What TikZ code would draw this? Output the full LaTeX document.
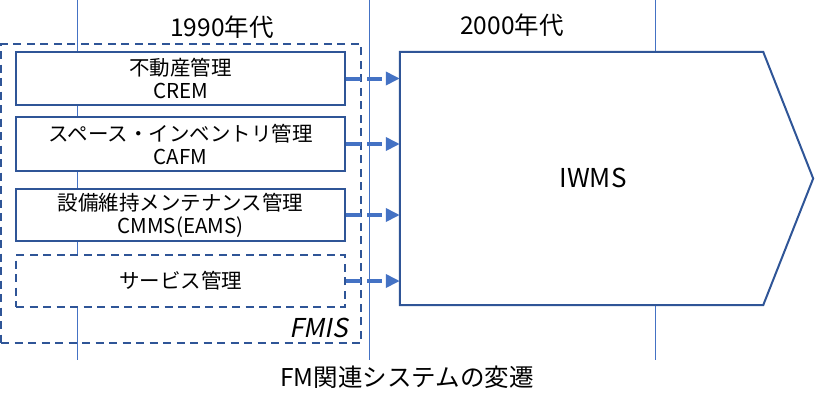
\documentclass[tikz,border=0pt]{standalone}
\usepackage{fontspec}
\setmainfont{Noto Sans CJK JP}
\newfontfamily\slfont{Noto Sans CJK JP}[FakeSlant=0.2]
\usetikzlibrary{arrows.meta,calc}
\definecolor{dkblue}{HTML}{2F5597}
\definecolor{ltblue}{HTML}{4472C4}
\begin{document}
\begin{tikzpicture}[x=1pt,y=-1pt,
  guide/.style={draw=ltblue,line width=1pt},
  sysbox/.style={draw=dkblue,line width=2pt,fill=white,minimum width=329pt,align=center,inner sep=0pt,font=\fontsize{20.5}{23}\selectfont},
  dashbox/.style={sysbox,dash pattern=on 8pt off 5.5pt},
  flow/.style={draw=ltblue,line width=4pt,dash pattern=on 15pt off 6pt,-{Triangle[length=14pt,width=13pt]}},
  lbl/.style={inner sep=0pt,font=\fontsize{24.5}{28}\selectfont}
]
\useasboundingbox (0,0) rectangle (815,408);
% guide lines
\coordinate (g1t) at (77,0);   \coordinate (g1b) at (77,360);
\coordinate (g2t) at (369,0);  \coordinate (g2b) at (369,360);
\coordinate (g3t) at (655,0);  \coordinate (g3b) at (655,360);
\draw[guide] (g1t) -- (g1b);
\draw[guide] (g3t) -- (g3b);
% FMIS frame
\node[draw=dkblue,line width=2pt,dash pattern=on 8pt off 5.5pt,minimum width=360pt,minimum height=299pt,inner sep=0pt] (fmis) at (181,193.5) {};
\node[lbl,anchor=south east,font=\fontsize{26}{28}\slfont] (fmislbl) at (348,338) {FMIS};
% boxes
\node[sysbox,minimum height=52.5pt] (b1) at (180.5,78.5) {不動産管理\\CREM};
\node[sysbox,minimum height=54pt] (b2) at (180.5,144) {スペース・インベントリ管理\\CAFM};
\node[sysbox,minimum height=52pt] (b3) at (180.5,215) {設備維持メンテナンス管理\\CMMS(EAMS)};
\node[dashbox,minimum height=52pt] (b4) at (180.5,281) {サービス管理};
% IWMS
\node[minimum width=363pt,minimum height=253pt,inner sep=0pt] (iwms) at (581.5,178.5) {};
\draw[dkblue,line width=2pt,fill=white,line join=miter] (iwms.north west) -- (iwms.north east) -- ($(iwms.east)+(50,0)$) -- (iwms.south east) -- (iwms.south west) -- cycle;
\node[lbl,font=\fontsize{26}{28}\selectfont] (iwmslbl) at (593,178) {IWMS};
\draw[guide] (g2t) -- (g2b);
% arrows
\draw[flow] (b1.east) -- (b1.east -| iwms.west);
\draw[flow] (b2.east) -- (b2.east -| iwms.west);
\draw[flow] (b3.east) -- (b3.east -| iwms.west);
\draw[flow] (b4.east) -- (b4.east -| iwms.west);
% labels
\node[lbl] (y1990) at (222,27) {1990年代};
\node[lbl] (y2000) at (512,25) {2000年代};
\node[lbl] (title) at (407,377) {FM関連システムの変遷};
\end{tikzpicture}
\end{document}
